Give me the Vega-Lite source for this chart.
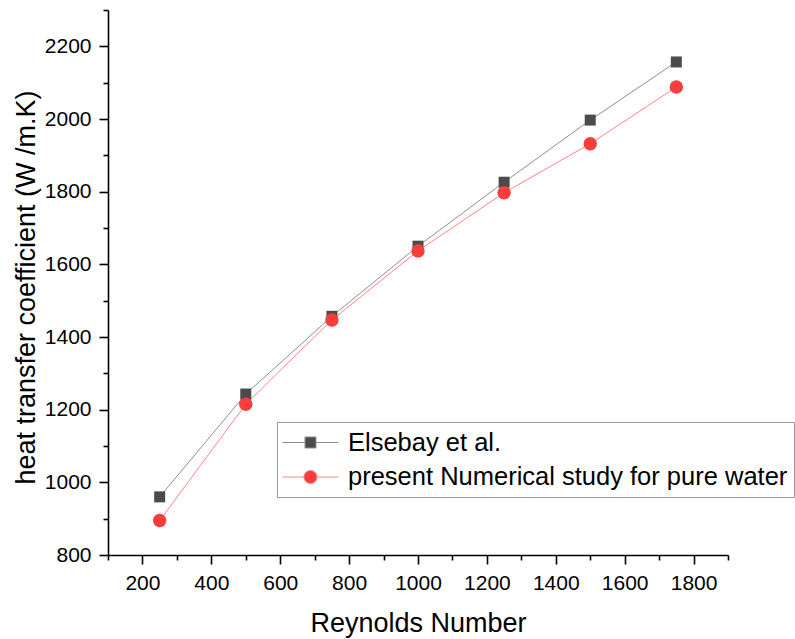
{
  "$schema": "https://vega.github.io/schema/vega-lite/v6.json",
  "autosize": {"type": "none"},
  "padding": {"left": 108, "top": 10, "right": 67, "bottom": 84},
  "width": 620,
  "height": 545,
  "background": "white",
  "config": {
    "font": "Liberation Sans",
    "view": {"stroke": null},
    "axis": {
      "domainColor": "black",
      "domainWidth": 1.6,
      "tickColor": "black",
      "tickWidth": 1.6,
      "labelColor": "black",
      "titleColor": "black",
      "labelFont": "Liberation Sans",
      "titleFont": "Liberation Sans",
      "labelFontSize": 21,
      "titleFontSize": 27,
      "titleFontWeight": "normal",
      "grid": false
    },
    "legend": {
      "title": null,
      "orient": "none",
      "legendX": 169,
      "legendY": 412,
      "strokeColor": "#9a9a9a",
      "fillColor": "white",
      "padding": 6,
      "symbolSize": 784,
      "symbolStrokeWidth": 1,
      "symbolOpacity": 1,
      "labelFont": "Liberation Sans",
      "labelFontSize": 25.5,
      "labelColor": "black",
      "labelOffset": 36,
      "labelLimit": 600,
      "rowPadding": 6.5
    }
  },
  "data": {
    "values": [
      {"Re": 250, "h": 960, "series": "Elsebay et al."},
      {"Re": 500, "h": 1243, "series": "Elsebay et al."},
      {"Re": 750, "h": 1457, "series": "Elsebay et al."},
      {"Re": 1000, "h": 1650, "series": "Elsebay et al."},
      {"Re": 1250, "h": 1826, "series": "Elsebay et al."},
      {"Re": 1500, "h": 1997, "series": "Elsebay et al."},
      {"Re": 1750, "h": 2157, "series": "Elsebay et al."},
      {"Re": 250, "h": 895, "series": "present Numerical study for pure water"},
      {"Re": 500, "h": 1215, "series": "present Numerical study for pure water"},
      {"Re": 750, "h": 1447, "series": "present Numerical study for pure water"},
      {"Re": 1000, "h": 1637, "series": "present Numerical study for pure water"},
      {"Re": 1250, "h": 1797, "series": "present Numerical study for pure water"},
      {"Re": 1500, "h": 1932, "series": "present Numerical study for pure water"},
      {"Re": 1750, "h": 2088, "series": "present Numerical study for pure water"}
    ]
  },
  "encoding": {
    "x": {
      "field": "Re", "type": "quantitative",
      "scale": {"domain": [100, 1900], "nice": false, "zero": false},
      "axis": {
        "title": "Reynolds Number",
        "values": [100,200,300,400,500,600,700,800,900,1000,1100,1200,1300,1400,1500,1600,1700,1800,1900],
        "labelExpr": "datum.value % 200 === 0 ? datum.label : ''",
        "format": "d",
        "tickSize": {"condition": {"test": "datum.value % 200 === 0", "value": 9}, "value": 5},
        "labelPadding": 8,
        "titlePadding": 17
      }
    },
    "y": {
      "field": "h", "type": "quantitative",
      "scale": {"domain": [800, 2300], "nice": false, "zero": false},
      "axis": {
        "title": "heat transfer coefficient (W /m.K)",
        "values": [800,900,1000,1100,1200,1300,1400,1500,1600,1700,1800,1900,2000,2100,2200,2300],
        "labelExpr": "datum.value % 200 === 0 ? datum.label : ''",
        "format": "d",
        "tickSize": {"condition": {"test": "datum.value % 200 === 0", "value": 9}, "value": 5},
        "labelPadding": 8,
        "titlePadding": 4,
        "titleY": 277
      }
    }
  },
  "layer": [
    {
      "mark": {"type": "point", "filled": true, "opacity": 0},
      "encoding": {
        "fill": {
          "field": "series", "type": "nominal",
          "scale": {"domain": ["Elsebay et al.", "present Numerical study for pure water"], "range": ["#4b4b4b", "#f93d3d"]}
        },
        "stroke": {
          "field": "series", "type": "nominal",
          "scale": {"domain": ["Elsebay et al.", "present Numerical study for pure water"], "range": ["#8f8f8f", "#ff8585"]}
        },
        "shape": {
          "field": "series", "type": "nominal",
          "scale": {"domain": ["Elsebay et al.", "present Numerical study for pure water"], "range": ["M-1.071,0H0.536M1.321,0H2.929M0.536,-0.393H1.321V0.393H0.536Z", "M-1.071,0H0.465M1.393,0H2.929M0.465,0A0.464,0.464 0 1,0 1.393,0A0.464,0.464 0 1,0 0.465,0Z"]}
        }
      }
    },
    {
      "mark": {"type": "line", "strokeWidth": 1},
      "encoding": {
        "stroke": {"field": "series", "type": "nominal"}
      }
    },
    {
      "transform": [{"filter": "datum.series === 'Elsebay et al.'"}],
      "mark": {"type": "point", "filled": true, "opacity": 1, "shape": "square", "size": 121, "strokeWidth": 0},
      "encoding": {
        "fill": {"field": "series", "type": "nominal"}
      }
    },
    {
      "transform": [{"filter": "datum.series !== 'Elsebay et al.'"}],
      "mark": {"type": "point", "filled": true, "opacity": 1, "shape": "circle", "size": 180, "strokeWidth": 0},
      "encoding": {
        "fill": {"field": "series", "type": "nominal"}
      }
    }
  ]
}
